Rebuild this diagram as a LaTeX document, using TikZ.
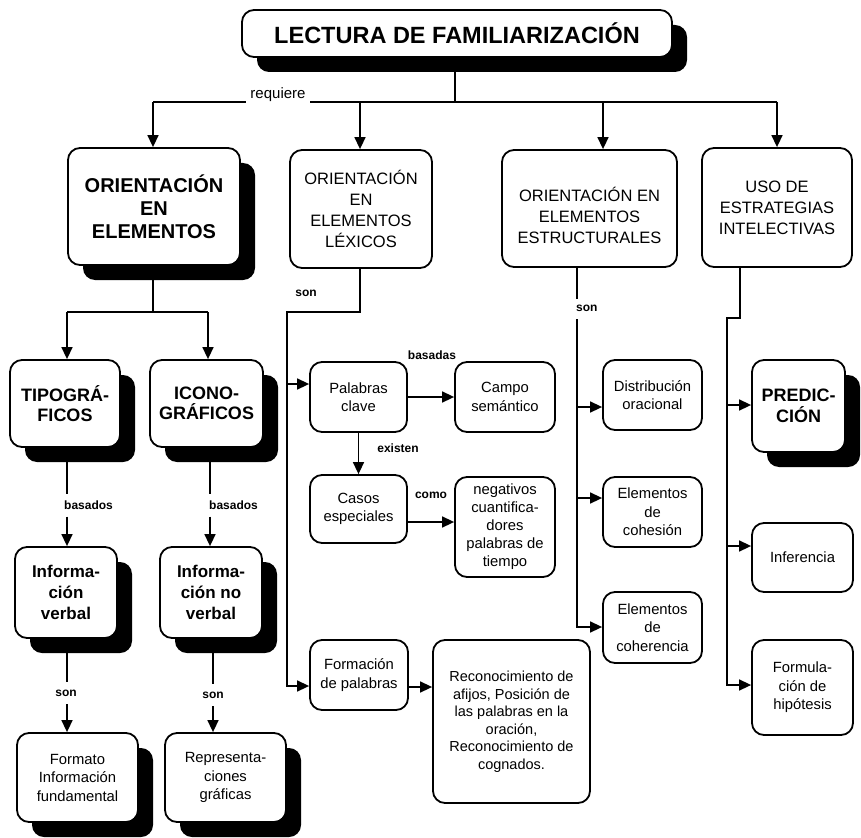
\documentclass[tikz,border=0pt]{standalone}
\usepackage{fontspec}
\setmainfont{Liberation Sans}
\usetikzlibrary{arrows.meta,shadows}
\pgfdeclarelayer{background}
\pgfsetlayers{background,main}
\tikzset{
  box/.style={draw=black, line width=1.8pt, rounded corners=12pt, fill=white, align=center, inner sep=0pt},
  shbox/.style={box, drop shadow={shadow xshift=15pt, shadow yshift=-15pt, fill=black, opacity=1}},
  conn/.style={line width=1.5pt},
  arr/.style={conn, -{Triangle[length=12pt,width=11pt]}},
  lbl/.style={font=\bfseries\fontsize{12}{14}\selectfont, inner sep=0pt},
  fbig/.style={font=\bfseries\fontsize{20}{23}\selectfont},
  fhead/.style={font=\fontsize{16.5}{21}\selectfont},
  fbold/.style={font=\bfseries\fontsize{18}{20.5}\selectfont},
  fibold/.style={font=\bfseries\fontsize{17}{21}\selectfont},
  fnorm/.style={font=\fontsize{14.8}{18.5}\selectfont},
  fsmall/.style={font=\fontsize{14.5}{17.5}\selectfont},
}
\begin{document}
\begin{tikzpicture}[x=1pt,y=-1pt]
\useasboundingbox (0,0) rectangle (861,837);

% ---- nodes
\node[shbox, minimum width=430pt, minimum height=47pt, font=\bfseries\fontsize{23.5}{28}\selectfont] (title) at (457,33.5) {LECTURA DE FAMILIARIZACIÓN};

\node[shbox, fbig, minimum width=172pt, minimum height=117pt] (oe) at (154,206.5) {ORIENTACIÓN\\EN\\ELEMENTOS};
\node[box, fhead, minimum width=142pt, minimum height=118pt] (lex) at (361,209) {ORIENTACIÓN\\EN\\ELEMENTOS\\LÉXICOS};
\node[box, fhead, minimum width=175pt, minimum height=117pt] (est) at (589.5,208.5) {\rule{0pt}{28pt}ORIENTACIÓN EN\\ELEMENTOS\\ESTRUCTURALES};
\node[box, fhead, minimum width=150pt, minimum height=119pt] (uso) at (777,207.5) {USO DE\\ESTRATEGIAS\\INTELECTIVAS};

\node[shbox, fbold, minimum width=110pt, minimum height=87pt] (tipo) at (65,403.5) {TIPOGRÁ-\\FICOS};
\node[shbox, fbold, minimum width=113pt, minimum height=87pt] (icono) at (206.5,403.5) {ICONO-\\GRÁFICOS};
\node[shbox, fibold, minimum width=102pt, minimum height=91pt] (iv) at (66,592.5) {Informa-\\ción\\verbal};
\node[shbox, fibold, minimum width=102pt, minimum height=91pt] (inv) at (211,592.5) {Informa-\\ción no\\verbal};
\node[shbox, fnorm, minimum width=121pt, minimum height=89pt] (formato) at (77.5,777.5) {Formato\\Información\\fundamental};
\node[shbox, fnorm, minimum width=121pt, minimum height=89pt] (repr) at (225.5,777.5) {Representa-\\ciones\\gráficas};

\node[box, fnorm, minimum width=97pt, minimum height=70pt] (pal) at (358.5,397) {Palabras\\clave};
\node[box, fnorm, minimum width=100pt, minimum height=70pt] (campo) at (505,397) {Campo\\semántico};
\node[box, fnorm, minimum width=97pt, minimum height=68pt] (casos) at (358.5,509) {Casos\\especiales};
\node[box, fnorm, font=\fontsize{14.8}{18}\selectfont, minimum width=100pt, minimum height=100pt] (neg) at (505,527) {negativos\\cuantifica-\\dores\\palabras de\\tiempo};
\node[box, fnorm, minimum width=98pt, minimum height=70pt] (form) at (359,675) {Formación\\de palabras};
\node[box, fsmall, minimum width=157pt, minimum height=163pt] (recon) at (511.5,721.5) {Reconocimiento de\\afijos, Posición de\\las palabras en la\\oración,\\Reconocimiento de\\cognados.};

\node[box, fnorm, minimum width=99pt, minimum height=70pt] (dist) at (652.5,395) {Distribución\\oracional};
\node[box, fnorm, minimum width=99pt, minimum height=70pt] (cohe) at (652.5,512) {Elementos\\de\\cohesión};
\node[box, fnorm, minimum width=99pt, minimum height=71pt] (coher) at (652.5,627.5) {Elementos\\de\\coherencia};

\node[shbox, fbold, minimum width=93pt, minimum height=92pt] (pred) at (798.5,406) {PREDIC-\\CIÓN};
\node[box, fnorm, minimum width=101pt, minimum height=69pt] (inf) at (802.5,557.5) {Inferencia};
\node[box, fnorm, minimum width=101pt, minimum height=95pt] (formu) at (802.5,687.5) {Formula-\\ción de\\hipótesis};

% ---- labels
\node[inner sep=0pt, font=\fontsize{15}{17}\selectfont] (req) at (278,95) {requiere};
\node[lbl, anchor=west] (bas1) at (64,505) {basados};
\node[lbl, anchor=west] (bas2) at (209,505) {basados};
\node[lbl] (son1) at (66,693) {son};
\node[lbl] (son2) at (213,695) {son};
\node[lbl] (son3) at (306,293) {son};
\node[lbl, anchor=west] (son4) at (576,308) {son};
\node[lbl] (basadas) at (432,355) {basadas};
\node[lbl] (existen) at (398,448) {existen};
\node[lbl] (como) at (431,495) {como};

% ---- connectors
\begin{pgfonlayer}{background}
\coordinate (h0) at (455,102);
\coordinate (hl) at (153,102);
\coordinate (hr) at (777,102);
\coordinate (he) at (603,102);
\coordinate (hx) at (360,102);
\coordinate (rqL) at (246,102);
\coordinate (rqR) at (310,102);
\draw[conn] (h0 |- title.south) -- (h0);
\draw[conn] (hl) -- (rqL);
\draw[conn] (rqR) -- (hr);
\draw[arr] (hl) -- (hl |- oe.north);
\draw[arr] (hx) -- (hx |- lex.north);
\draw[arr] (he) -- (he |- est.north);
\draw[arr] (hr) -- (hr |- uso.north);

% left branch
\coordinate (j1) at (153,312);
\coordinate (jt) at (67,312);
\coordinate (ji) at (208,312);
\draw[conn] (j1 |- oe.south) -- (j1);
\draw[conn] (jt) -- (ji);
\draw[arr] (jt) -- (jt |- tipo.north);
\draw[arr] (ji) -- (ji |- icono.north);

\coordinate (jb) at (210,312);
\coordinate (js) at (213,312);
\draw[conn] (jt |- tipo.south) -- ([yshift=6pt]jt |- bas1.north);
\draw[arr] ([yshift=-7pt]jt |- bas1.south) -- (jt |- iv.north);
\draw[conn] (jb |- icono.south) -- ([yshift=6pt]jb |- bas2.north);
\draw[arr] ([yshift=-7pt]jb |- bas2.south) -- (jb |- inv.north);
\draw[conn] (jt |- iv.south) -- ([yshift=8pt]jt |- son1.north);
\draw[arr] ([yshift=-8pt]jt |- son1.south) -- (jt |- formato.north);
\draw[conn] (js |- inv.south) -- ([yshift=8pt]js |- son2.north);
\draw[arr] ([yshift=-8pt]js |- son2.south) -- (js |- repr.north);

% lexical branch
\coordinate (lj) at (360,312);
\coordinate (lt) at (287,312);
\coordinate (lp) at (287,384);
\coordinate (lf) at (287,686);
\draw[arr] (lj |- lex.south) -- (lj) -- (lt) -- (lf) -- (lf -| form.west);
\draw[arr] (lp) -- (lp -| pal.west);
\draw[arr] (pal.east) -- (campo.west);
\draw[arr] (pal.south) -- (casos.north);
\draw[arr] ([yshift=-13pt]casos.east) -- ([yshift=-13pt]casos.east -| neg.west);
\draw[arr] ([yshift=-12pt]form.east) -- ([yshift=-12pt]form.east -| recon.west);

% structural branch
\coordinate (ej) at (577,300);
\coordinate (e1) at (577,407);
\coordinate (e2) at (577,498);
\coordinate (e3) at (577,627);
\draw[conn] (ej |- est.south) -- ([yshift=6pt]ej |- son4.north);
\draw[arr] ([yshift=-8pt]ej |- son4.south) -- (e3) -- (e3 -| coher.west);
\draw[arr] (e1) -- (e1 -| dist.west);
\draw[arr] (e2) -- (e2 -| cohe.west);

% strategies branch
\coordinate (u0) at (740,318);
\coordinate (ut) at (727,318);
\coordinate (u1) at (727,405);
\coordinate (u2) at (727,546);
\coordinate (u3) at (727,685);
\draw[arr] (u0 |- uso.south) -- (u0) -- (ut) -- (u3) -- (u3 -| formu.west);
\draw[arr] (u1) -- (u1 -| pred.west);
\draw[arr] (u2) -- (u2 -| inf.west);
\end{pgfonlayer}
\end{tikzpicture}
\end{document}
